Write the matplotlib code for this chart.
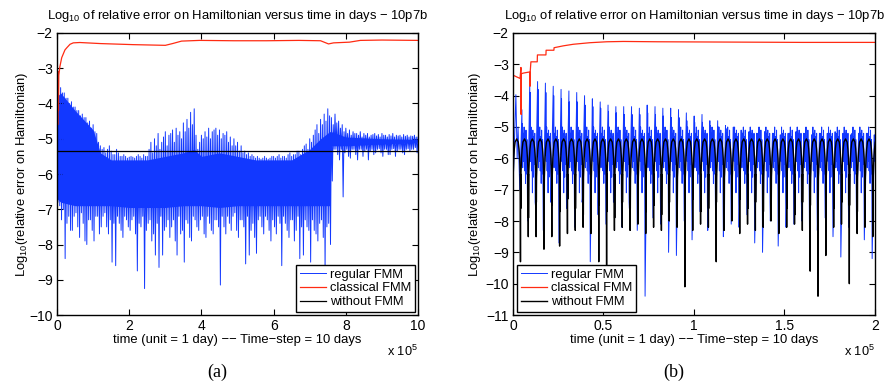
import numpy as np
import matplotlib
matplotlib.use("Agg")
import matplotlib.pyplot as plt
from matplotlib.ticker import FuncFormatter

plt.rcParams['font.family'] = ['Liberation Sans', 'DejaVu Sans']
plt.rcParams['mathtext.default'] = 'regular'

BLUE = '#1238ff'
RED = '#ff2b12'
BLACK = 'black'

TITLE = 'Log$_{10}$ of relative error on Hamiltonian versus time in days \u2212 10p7b'
XLABEL = 'time (unit = 1 day) \u2212\u2212 Time\u2212step = 10 days'
YLABEL = 'Log$_{10}$(relative error on Hamiltonian)'
LABELS = ['regular FMM', 'classical FMM', 'without FMM']

# ---------------- panel (a) : 10^6 days ----------------
a_grid = np.linspace(0, 10e5, 101)          # one sample every 10^4 days
a_blue_hi = [-3.6, -3.55, -3.7, -3.85, -3.95, -4.1, -4.2, -4.3, -4.4, -4.5,
             -4.6, -4.85, -5.2, -5.25, -5.3, -5.35, -5.45, -5.4, -5.5, -5.5,
             -5.52, -5.52, -5.5, -5.5, -5.45, -5.5, -5.1, -5.0, -4.85, -5.1,
             -4.8, -4.9, -4.75, -4.7, -4.8, -4.55, -4.45, -4.25, -4.15, -5.3,
             -4.9, -4.8, -4.7, -4.8, -4.7, -4.75, -4.85, -4.8, -4.95, -5.0,
             -5.1, -5.2, -5.35, -5.4, -5.45, -5.55, -5.55, -5.55, -5.55, -5.55,
             -5.5, -5.5, -5.55, -5.5, -5.45, -5.5, -5.45, -5.35, -5.3, -5.15,
             -5.0, -4.9, -4.6, -4.45, -4.3, -4.15, -4.4, -4.3, -4.5, -4.6,
             -4.7, -4.75, -4.8, -4.85, -4.8, -4.85, -4.85, -4.9, -4.85, -4.88,
             -4.85, -4.9, -4.88, -4.85, -4.9, -4.9, -4.88, -4.9, -4.92, -4.9,
             -4.95]
a_blue_lo = [-6.8, -7.3, -8.4, -7.2, -7.6, -7.1, -7.8, -7.4, -8.0, -7.3,
             -7.9, -7.2, -7.5, -7.1, -7.7, -8.5, -8.6, -7.4, -7.8, -7.3,
             -7.6, -7.2, -8.75, -7.5, -9.25, -7.4, -7.9, -8.3, -8.65, -8.3,
             -7.5, -7.8, -7.3, -8.3, -7.7, -8.5, -7.4, -7.9, -7.3, -7.6,
             -7.2, -7.8, -7.4, -7.7, -7.3, -9.15, -7.5, -7.2, -7.6, -7.1,
             -7.8, -7.3, -8.55, -8.3, -7.4, -8.25, -7.2, -7.7, -7.3, -7.9,
             -7.5, -7.2, -8.6, -7.4, -7.8, -7.3, -7.6, -8.4, -8.3, -7.5,
             -8.5, -7.6, -7.9, -7.3, -8.75, -7.4, -6.2, -5.3, -5.6, -6.65,
             -5.3, -5.55, -5.3, -5.6, -5.3, -5.35, -5.6, -5.3, -5.4, -5.28,
             -5.5, -5.3, -5.45, -5.28, -5.35, -5.3, -5.45, -5.28, -5.3, -5.25,
             -5.2]
a_blue_hi2 = [-3.9, -3.7, -3.85, -4.0, -4.1, -4.2, -4.35, -4.4, -4.55, -4.7,
              -4.8, -5.1, -5.3, -5.4, -5.2, -5.45, -5.3, -5.5, -5.45, -5.55,
              -5.5, -5.55, -5.45, -5.55, -5.5, -5.3, -5.4, -5.2, -5.3, -4.95,
              -5.2, -4.85, -5.1, -4.9, -5.0, -4.8, -4.7, -4.6, -4.9, -5.1,
              -5.0, -4.95, -5.0, -4.75, -4.9, -5.0, -4.9, -5.1, -5.2, -5.2,
              -5.35, -5.4, -5.45, -5.5, -5.5, -5.5, -5.58, -5.5, -5.58, -5.5,
              -5.55, -5.45, -5.5, -5.55, -5.4, -5.45, -5.35, -5.45, -5.2, -5.3,
              -5.1, -4.75, -4.85, -4.6, -4.5, -4.35, -4.6, -4.55, -4.7, -4.8,
              -4.85, -4.9, -4.85, -4.9, -4.95, -4.9, -4.95, -4.88, -4.92, -4.95,
              -4.9, -4.95, -4.92, -4.95, -4.92, -4.95, -4.93, -4.95, -4.93, -4.95,
              -4.97]
a_blue_lo2 = [-6.9, -7.0, -7.4, -7.6, -7.2, -7.5, -7.1, -7.9, -7.3, -7.6,
              -7.2, -7.7, -7.2, -7.5, -7.3, -7.4, -7.2, -7.6, -7.2, -7.5,
              -7.3, -7.7, -7.4, -7.2, -7.6, -7.3, -7.7, -7.4, -7.2, -7.6,
              -7.3, -7.5, -7.9, -7.2, -7.6, -7.3, -7.8, -7.2, -7.5, -7.3,
              -7.7, -7.2, -7.6, -7.3, -7.5, -7.2, -7.7, -7.4, -7.2, -7.6,
              -7.3, -7.5, -7.2, -7.6, -7.8, -7.3, -7.5, -7.2, -7.6, -7.3,
              -7.7, -7.4, -7.2, -7.6, -7.3, -7.9, -7.2, -7.5, -7.3, -7.6,
              -7.3, -7.7, -7.4, -7.8, -7.5, -8.0, -5.3, -5.45, -5.3, -5.4,
              -5.5, -5.3, -5.45, -5.3, -5.5, -5.3, -5.35, -5.45, -5.3, -5.4,
              -5.3, -5.45, -5.3, -5.5, -5.3, -5.4, -5.3, -5.35, -5.3, -5.4,
              -5.25]
a_core_t = np.array([0.0, 0.1, 0.5, 1.0, 1.2, 1.5, 2.0, 2.5, 3.0, 3.5, 3.8, 4.0,
                     4.5, 5.0, 5.5, 6.0, 6.5, 7.0, 7.3, 7.55, 7.6, 8.0, 9.0, 10.0]) * 1e5
a_core_hi = [-3.8, -3.7, -4.2, -4.75, -5.4, -5.6, -5.6, -5.6, -5.5, -5.4, -5.3, -5.5,
             -5.4, -5.5, -5.6, -5.6, -5.6, -5.3, -5.0, -4.8, -4.8, -4.95, -5.0, -5.02]
a_core_lo = [-6.7, -6.8, -6.9, -6.9, -6.9, -6.9, -6.95, -6.95, -6.95, -6.9, -6.9, -6.9,
             -6.95, -6.9, -6.9, -6.9, -6.9, -6.9, -6.9, -6.9, -5.2, -5.2, -5.15, -5.1]
a_red_t = np.array([0, 0.01, 0.02, 0.03, 0.04, 0.05, 0.08, 0.13, 0.22, 0.27, 0.36,
                    0.45, 0.63, 1.2, 2.1, 3.0, 3.2, 3.45, 3.95, 4.9, 5.8, 6.7, 7.3,
                    7.52, 7.66, 8.1, 8.4, 9.0, 10.0]) * 1e5
a_red = [-6.7, -3.0, -4.6, -3.1, -4.2, -3.2, -2.95, -2.7, -2.48, -2.42, -2.32,
         -2.28, -2.27, -2.3, -2.33, -2.35, -2.3, -2.23, -2.21, -2.22, -2.22, -2.21,
         -2.22, -2.31, -2.28, -2.26, -2.21, -2.2, -2.21]
a_black_t = [0, 10e5]
a_black = [-5.35, -5.35]

# ---------------- panel (b) : 2*10^5 days ----------------
b_trough_t = 4200 + 4326 * np.arange(46)     # one trough per orbital period
b_black_deep = [-9.3, -8.5, -8.5, -8.9, -8.5, -8.8, -8.4, -8.3, -8.2, -8.4,
                -9.3, -9.6, -8.3, -8.2, -8.3, -8.1, -8.4, -8.2, -8.3, -8.0,
                -8.2, -10.1, -8.3, -8.1, -8.2, -9.3, -8.3, -8.0, -8.4, -8.1,
                -8.3, -8.2, -8.0, -8.4, -8.2, -8.1, -8.3, -9.6, -10.4, -9.1,
                -8.2, -8.1, -10.0, -8.4, -8.2, -8.5]
b_black_dip2 = [-7.6, -7.9, -7.4, -7.8, -7.5, -7.7, -7.3, -7.6, -7.8, -7.4,
                -7.5, -7.7, -7.9, -7.4, -7.6, -7.3, -7.7, -7.5, -7.8, -7.4,
                -7.6, -7.5, -7.3, -7.7, -7.6, -7.4, -7.8, -7.5, -7.3, -7.6,
                -7.4, -7.7, -7.5, -7.3, -7.6, -7.8, -7.4, -7.5, -7.7, -7.3,
                -7.6, -7.4, -7.5, -7.7, -7.3, -7.6]
b_arch_phase = [0.12, 0.2, 0.3, 0.5, 0.7, 0.8, 0.88]
b_arch_level = [-6.0, -5.7, -5.48, -5.38, -5.48, -5.7, -6.0]
b_blue_peak = [-4.45, -3.55, -3.55, -3.6, -3.7, -3.8, -3.85, -3.9, -4.0, -4.1,
               -4.2, -4.3, -4.35, -4.35, -4.35, -4.4, -4.3, -4.35, -4.4, -4.4,
               -4.45, -4.55, -4.65, -4.6, -4.8, -4.8, -4.95, -5.0, -5.1, -5.15,
               -5.2, -5.15, -5.2, -5.25, -5.2, -5.15, -5.2, -5.25, -5.2, -5.2,
               -5.15, -5.2, -5.25, -5.2, -5.2, -5.25]
b_blue_peak2 = [-4.9, -3.9, -3.8, -3.9, -4.0, -4.1, -4.2, -4.2, -4.3, -4.35,
                -4.4, -4.5, -4.55, -4.6, -4.6, -4.6, -4.55, -4.6, -4.65, -4.7,
                -4.7, -4.8, -4.85, -4.85, -4.95, -5.0, -5.05, -5.1, -5.15, -5.2,
                -5.25, -5.2, -5.25, -5.3, -5.25, -5.2, -5.25, -5.3, -5.25, -5.25,
                -5.2, -5.25, -5.3, -5.25, -5.25, -5.3]
b_blue_deep = [-7.0, -8.0, -7.5, -8.3, -7.2, -8.7, -7.6, -8.2, -7.3, -9.3,
               -7.8, -8.1, -7.4, -8.2, -7.6, -8.3, -10.4, -7.9, -8.1, -9.0,
               -9.1, -8.0, -8.6, -7.7, -8.3, -7.9, -8.5, -8.1, -8.2, -7.8,
               -8.7, -9.0, -8.0, -8.8, -8.2, -8.1, -8.0, -8.4, -8.3, -7.9,
               -8.5, -9.15, -8.2, -8.0, -8.6, -9.2]
b_band_phase = [0.27, 0.33, 0.39, 0.45, 0.51, 0.57, 0.63, 0.69, 0.75, 0.81, 0.86]
b_band_a = [-6.3, -5.2, -6.1, -5.0, -6.4, -5.3, -6.8, -5.1, -6.5, -5.4, -6.9]
b_band_b = [-6.1, -5.0, -6.4, -5.2, -7.1, -5.1, -6.6, -5.3, -6.2, -5.2, -7.4]
b_blue_head_t = [0, 1600, 2300, 2800, 3400]
b_blue_head = [-7.0, -3.97, -6.0, -5.0, -6.2]
b_red_t = [0, 150, 200, 2000, 3900, 4400, 4500, 4600, 5700, 8500, 9300, 9400,
           9500, 9900, 13400, 13500, 18200, 18300, 22600, 22700, 27800, 33300,
           42500, 51800, 61000, 80000, 120000, 160000, 200000]
b_red = [-7.0, -3.0, -3.35, -3.4, -3.45, -3.1, -4.6, -3.3, -3.28, -3.25, -3.25,
         -3.7, -3.25, -2.92, -2.92, -2.7, -2.7, -2.55, -2.55, -2.47, -2.41,
         -2.36, -2.31, -2.28, -2.27, -2.28, -2.29, -2.3, -2.3]

# --- build the series ---
a_zig_t = np.ravel(np.column_stack([a_grid, a_grid + 0.025e5,
                                    a_grid + 0.05e5, a_grid + 0.075e5]))
a_zig_y = np.ravel(np.column_stack([a_blue_hi, a_blue_lo, a_blue_hi2, a_blue_lo2]))

P = 4326.0
bk_t, bk_y = [0.0], [-6.8]
for ph, lv in zip(b_arch_phase, b_arch_level):
    tt = b_trough_t[0] - P + ph * P
    if tt > 0:
        bk_t.append(tt); bk_y.append(lv)
for k, tk in enumerate(b_trough_t):
    bk_t += [tk - 0.04 * P, tk - 0.015 * P, tk, tk + 0.015 * P, tk + 0.04 * P]
    bk_y += [-6.6, b_black_deep[k], -6.5, b_black_dip2[k], -6.6]
    for ph, lv in zip(b_arch_phase, b_arch_level):
        bk_t.append(tk + ph * P); bk_y.append(lv)

bb_t, bb_y = list(b_blue_head_t), list(b_blue_head)
for k, tk in enumerate(b_trough_t):
    bb_t += [tk - 0.1 * P, tk + 0.17 * P, tk + 0.2 * P, tk + 0.23 * P]
    bb_y += [b_blue_deep[k], b_blue_peak[k], -5.9, b_blue_peak2[k]]
    band = b_band_a if k % 2 == 0 else b_band_b
    for ph, lv in zip(b_band_phase, band):
        bb_t.append(tk + ph * P); bb_y.append(lv)

fig = plt.figure(figsize=(8.84, 3.85), dpi=100)
ax1 = fig.add_axes([0.0645, 0.1818, 0.4084, 0.7325])
ax2 = fig.add_axes([0.5803, 0.1818, 0.4095, 0.7325])

ax1.fill_between(a_core_t, a_core_lo, a_core_hi, color=BLUE, lw=0)
ax1.plot(a_zig_t, a_zig_y, color=BLUE, lw=0.7, label=LABELS[0])
ax1.plot(a_red_t, a_red, color=RED, lw=0.9, label=LABELS[1])
ax1.plot(a_black_t, a_black, color=BLACK, lw=0.9, label=LABELS[2])

ax2.plot(bb_t, bb_y, color=BLUE, lw=0.7, label=LABELS[0])
ax2.plot(b_red_t, b_red, color=RED, lw=0.9, label=LABELS[1])
ax2.plot(bk_t, bk_y, color=BLACK, lw=1.0, label=LABELS[2])

fmt = FuncFormatter(lambda v, p: f'{v / 1e5:g}')
for ax, xmax, xstep, ymin in [(ax1, 10e5, 2e5, -10), (ax2, 2e5, 0.5e5, -11)]:
    ax.set_xlim(0, xmax)
    ax.set_ylim(ymin, -2)
    ax.set_xticks(np.arange(0, xmax + 1, xstep))
    ax.set_yticks(np.arange(ymin, -1, 1))
    ax.xaxis.set_major_formatter(fmt)
    ax.tick_params(direction='in', top=True, right=True, length=4, width=0.8,
                   labelsize=10, pad=3)
    for s in ax.spines.values():
        s.set_linewidth(1.0)
    ax.set_title(TITLE, fontsize=9.4, pad=10)
    ax.set_xlabel(XLABEL, fontsize=9.4)
    ax.xaxis.set_label_coords(0.5, -0.067)
    ax.set_ylabel(YLABEL, fontsize=9.4)
    ax.text(1.0, -0.13, 'x 10$^{5}$', transform=ax.transAxes, ha='right',
            va='center', fontsize=9.2)

ax1.yaxis.set_label_coords(-0.074, 0.5)
ax2.yaxis.set_label_coords(-0.083, 0.5)

leg_kw = dict(fontsize=9.3, fancybox=False, framealpha=1, edgecolor='black',
              borderaxespad=0, handlelength=2.0, handletextpad=0.3,
              labelspacing=0.12, borderpad=0.3)
l1 = ax1.legend(loc='lower right', bbox_to_anchor=(0.992, 0.011), **leg_kw)
l2 = ax2.legend(loc='lower left', bbox_to_anchor=(0.011, 0.011), **leg_kw)
for lg in (l1, l2):
    lg.get_frame().set_linewidth(1.0)

fig.text(0.2455, 0.034, '(a)', family='Liberation Serif', fontsize=13,
         ha='center', va='center')
fig.text(0.7624, 0.034, '(b)', family='Liberation Serif', fontsize=13,
         ha='center', va='center')

fig.savefig('out.png', dpi=100)
